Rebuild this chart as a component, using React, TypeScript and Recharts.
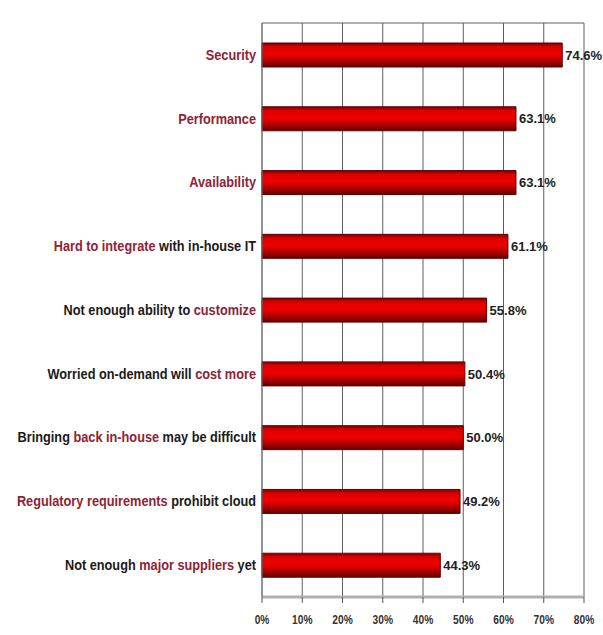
import React from 'react';
import {
  BarChart,
  Bar,
  XAxis,
  YAxis,
  CartesianGrid,
  LabelList,
} from 'recharts';

// survey answers, top to bottom
const categories = [
  'Security',
  'Performance',
  'Availability',
  'Hard to integrate with in-house IT',
  'Not enough ability to customize',
  'Worried on-demand will cost more',
  'Bringing back in-house may be difficult',
  'Regulatory requirements prohibit cloud',
  'Not enough major suppliers yet',
];

// part of each label printed in red
const highlights = [
  'Security',
  'Performance',
  'Availability',
  'Hard to integrate',
  'customize',
  'cost more',
  'back in-house',
  'Regulatory requirements',
  'major suppliers',
];

const percents = [74.6, 63.1, 63.1, 61.1, 55.8, 50.4, 50.0, 49.2, 44.3];

const xTicks = [0, 10, 20, 30, 40, 50, 60, 70, 80];

const data = categories.map((label, i) => ({
  label,
  highlight: highlights[i],
  value: percents[i],
}));

const FONT = '"Liberation Sans", Arial, sans-serif';
const RED_TEXT = '#8e2337';

// labels in the original are a condensed bold face, squeeze them horizontally
const CategoryTick = (props: any) => {
  const { x, y, payload } = props;
  const label: string = payload.value;
  const row = data.find((d) => d.label === label);
  const hl = row ? row.highlight : '';
  const idx = label.indexOf(hl);
  const before = idx >= 0 ? label.slice(0, idx) : label;
  const mid = idx >= 0 ? hl : '';
  const after = idx >= 0 ? label.slice(idx + hl.length) : '';
  return (
    <g transform={`translate(${x + 2},${y}) scale(0.91,1)`}>
      <text
        x={0}
        y={0}
        dy="0.35em"
        textAnchor="end"
        fontFamily={FONT}
        fontWeight="bold"
        fontSize={14}
      >
        {before && <tspan fill="#1a1a1a">{before}</tspan>}
        {mid && <tspan fill={RED_TEXT}>{mid}</tspan>}
        {after && <tspan fill="#1a1a1a">{after}</tspan>}
      </text>
    </g>
  );
};

const PercentTick = (props: any) => {
  const { x, y, payload } = props;
  return (
    <g transform={`translate(${x},${y}) scale(0.85,1)`}>
      <text
        x={0}
        y={0}
        dy="0.71em"
        textAnchor="middle"
        fontFamily={FONT}
        fontWeight="bold"
        fontSize={12}
        fill="#333"
      >
        {`${payload.value}%`}
      </text>
    </g>
  );
};

export default function App() {
  return (
    <div style={{ position: 'absolute', left: 0, top: 0, background: '#fff' }}>
      <BarChart
        width={603}
        height={635}
        data={data}
        layout="vertical"
        margin={{ top: 23, right: 19, bottom: 8, left: 0 }}
      >
        <defs>
          <linearGradient id="barRed" x1="0" y1="0" x2="0" y2="1">
            <stop offset="0%" stopColor="#7a0000" />
            <stop offset="15%" stopColor="#d80000" />
            <stop offset="45%" stopColor="#f20000" />
            <stop offset="75%" stopColor="#b00000" />
            <stop offset="100%" stopColor="#5c0000" />
          </linearGradient>
        </defs>
        <CartesianGrid
          stroke="#5e5e5e"
          vertical={true}
          horizontal={true}
          horizontalPoints={[23]}
        />
        <XAxis
          type="number"
          domain={[0, 80]}
          ticks={xTicks}
          height={30}
          axisLine={{ stroke: '#b0b0b0', strokeWidth: 3 }}
          tickLine={{ stroke: '#555' }}
          tickSize={6}
          tickMargin={12}
          tick={<PercentTick />}
        />
        <YAxis
          type="category"
          dataKey="label"
          width={262}
          axisLine={{ stroke: '#777' }}
          tickLine={false}
          interval={0}
          tick={<CategoryTick />}
        />
        <Bar
          dataKey="value"
          barSize={24}
          fill="url(#barRed)"
          stroke="#600000"
          strokeWidth={1}
          isAnimationActive={false}
        >
          <LabelList
            dataKey="value"
            position="right"
            offset={3}
            formatter={(v: any) => `${Number(v).toFixed(1)}%`}
            style={{ fontSize: 13, fontWeight: 'bold', fill: '#222', fontFamily: FONT }}
          />
        </Bar>
      </BarChart>
    </div>
  );
}
